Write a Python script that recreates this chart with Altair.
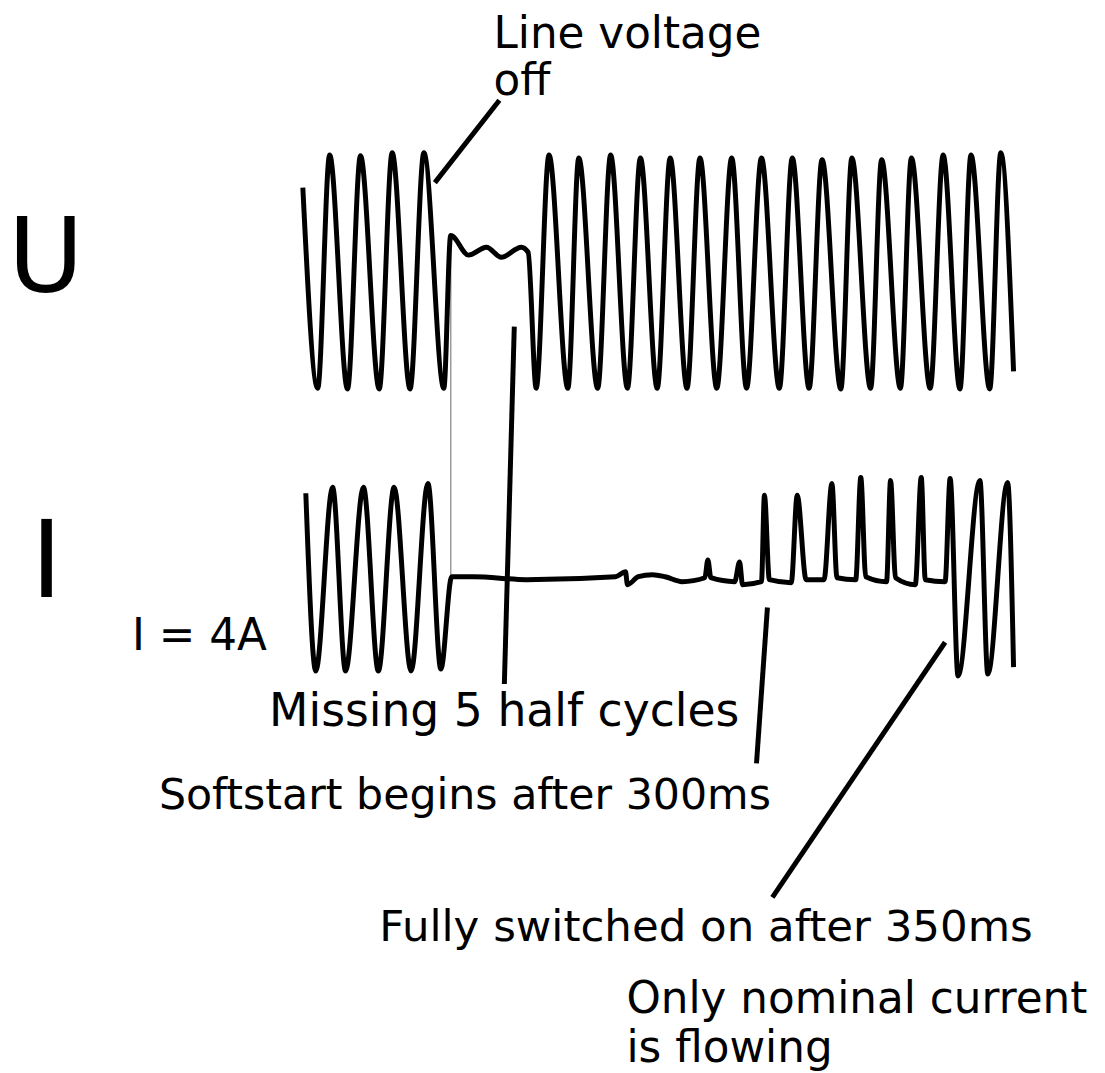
import altair as alt
import pandas as pd

# ---- data ----
# Voltage trace U: turning points (time in ms, volts)
u_time = [0, 10, 18, 30, 38.7, 51.3, 60, 72, 81.3, 94.7,
          99.3, 111.3, 123.3, 133.3, 146.7, 151.3,
          156.7, 165.3, 178, 185.3, 198, 206.7, 218, 226.7, 238, 246.7,
          258, 266.7, 278, 288, 298, 308, 320, 328.7, 340, 348.7,
          361.3, 368.7, 381.3, 388.7, 401.3, 408.7, 421.3, 430, 441.3, 448.7,
          461.3, 468.7, 477.3]
u_volt = [235, -324, 326, -326, 324, -326, 332, -326, 332, -324,
          102, 47, 69, 41, 69, 55,
          -324, 326, -324, 318, -324, 326, -324, 318, -324, 318,
          -324, 318, -324, 318, -324, 318, -324, 318, -324, 313,
          -326, 318, -324, 313, -324, 318, -324, 326, -326, 326,
          -326, 332, -277]

# Current trace I: turning points (time in ms, amperes)
i_time = [2, 8.7, 20, 28.7, 40.7, 50.7, 61.3, 72.7, 84, 92.7,
          100, 114.7, 150, 210, 216.7, 218, 225.3, 234.7, 243.3, 254.7,
          270, 272, 274, 290, 293.3, 295.3, 308, 310, 313.3, 328,
          332, 338, 350, 355.3, 358.7, 371.3, 374.7, 378, 392, 394.7,
          398, 411.3, 415.3, 418, 431.3, 434.7, 440, 454.7, 460, 473.3,
          477.3]
i_amp = [5.12, -5.66, 5.48, -5.66, 5.48, -5.66, 5.48, -5.66, 5.72, -5.54,
         0.06, 0.06, -0.12, 0.06, 0.36, -0.42, 0.06, 0.18, 0.06, -0.24,
         0, 1.08, 0, -0.24, 0.96, -0.42, -0.24, 5.0, -0.12, -0.3,
         5.0, -0.12, -0.12, 5.72, 0, -0.12, 6.08, 0.06, -0.24, 5.9,
         0, -0.42, 6.08, -0.12, -0.24, 6.02, -5.96, 5.9, -5.84, 5.78,
         -5.42]

labels = ["Line voltage", "off", "U", "I", "I = 4A",
          "Missing 5 half cycles", "Softstart begins after 300ms",
          "Fully switched on after 350ms", "Only nominal current", "is flowing"]

u_df = pd.DataFrame({"t": u_time, "v": u_volt})
i_df = pd.DataFrame({"t": i_time, "a": i_amp})

FONT = "DejaVu Sans"
x_scale = alt.Scale(domain=[0, 480], range=[297, 1017])

u_line = alt.Chart(u_df).mark_line(color="black", strokeWidth=5, interpolate="monotone").encode(
    x=alt.X("t:Q", scale=x_scale, axis=None),
    y=alt.Y("v:Q", scale=alt.Scale(domain=[-350, 350], range=[388.5, 135.5]), axis=None),
)

i_line = alt.Chart(i_df).mark_line(color="black", strokeWidth=5, interpolate="monotone").encode(
    x=alt.X("t:Q", scale=x_scale, axis=None),
    y=alt.Y("a:Q", scale=alt.Scale(domain=[-6, 6], range=[669.7, 470.3]), axis=None),
)

# thin trigger trace linking the two channels
gray = alt.Chart().mark_rule(color="#9a9a9a", strokeWidth=1.5).encode(
    x=alt.value(446), y=alt.value(225), y2=alt.value(569)
)

def leader(x1, y1, x2, y2):
    return alt.Chart().mark_rule(color="black", strokeWidth=5).encode(
        x=alt.value(x1 - 8), y=alt.value(y1 - 8), x2=alt.value(x2 - 8), y2=alt.value(y2 - 8)
    )

def label(text, x, y, size):
    return alt.Chart().mark_text(align="left", baseline="alphabetic", font=FONT,
                                 fontSize=size, color="black").encode(
        x=alt.value(x - 8), y=alt.value(y - 8), text=alt.value(text)
    )

leaders = [
    leader(438, 180, 503, 97),
    leader(518, 325, 508, 685),
    leader(773, 608, 762, 765),
    leader(952, 643, 778, 900),
]

texts = [
    label(labels[0], 497, 44, 44),
    label(labels[1], 497, 92, 44),
    label(labels[2], 8, 290, 104),
    label(labels[3], 31, 597, 108),
    label(labels[4], 133, 651, 44),
    label(labels[5], 271, 727, 46),
    label(labels[6], 160, 811, 43),
    label(labels[7], 382, 944, 43.8),
    label(labels[8], 631, 1016, 44),
    label(labels[9], 631, 1066, 44),
]

chart = alt.layer(gray, u_line, i_line, *leaders, *texts).resolve_scale(
    y="independent"
).properties(
    width=1097, height=1065, autosize="none", padding=0
).configure_view(stroke=None)

chart.save("out.html", embed_options={"renderer": "svg", "actions": False})
